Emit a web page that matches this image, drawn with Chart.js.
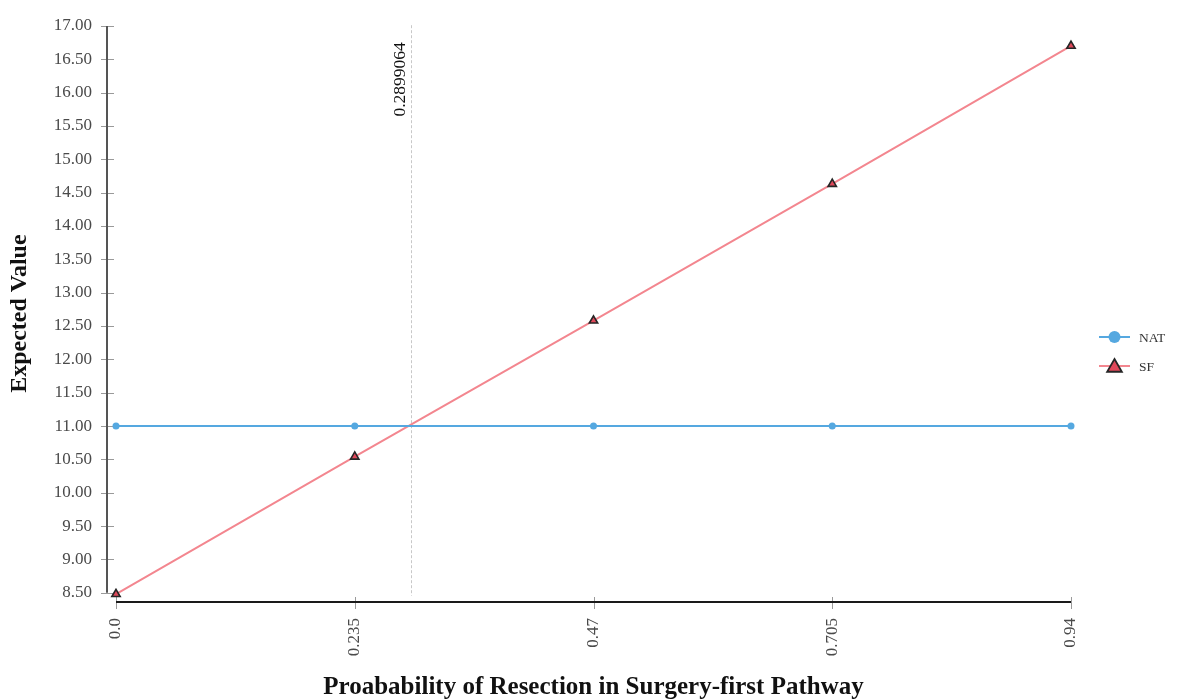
<!DOCTYPE html>
<html>
<head>
<meta charset="utf-8">
<title>Expected Value by Probability of Resection</title>
<script src="https://cdn.jsdelivr.net/npm/chart.js@4.4.1/dist/chart.umd.min.js"></script>
<style>
  html, body { margin: 0; padding: 0; background: #ffffff; }
  #wrap { width: 1185px; height: 700px; position: relative; }
</style>
</head>
<body>
<div id="wrap"><canvas id="chart" width="1185" height="700"></canvas></div>
<script>
// Probability of resection in the surgery-first pathway
const probabilities = [0, 0.235, 0.47, 0.705, 0.94];
const xTickLabels = ['0.0', '0.235', '0.47', '0.705', '0.94'];

// Expected value of each strategy
const natValues = [11.00, 11.00, 11.00, 11.00, 11.00];
const sfValues = [8.48, 10.54, 12.58, 14.63, 16.70];

const yTickValues = [8.5, 9, 9.5, 10, 10.5, 11, 11.5, 12, 12.5, 13, 13.5, 14, 14.5, 15, 15.5, 16, 16.5, 17];
const yTickLabels = ['8.50', '9.00', '9.50', '10.00', '10.50', '11.00', '11.50', '12.00', '12.50',
                     '13.00', '13.50', '14.00', '14.50', '15.00', '15.50', '16.00', '16.50', '17.00'];

// Threshold where the two strategies break even
const thresholdValue = 0.2899064;
const thresholdLabel = '0.2899064';

const seriesNames = ['NAT', 'SF'];

const SERIF = "'Liberation Serif', 'Times New Roman', serif";
const NAT_COLOR = '#55a8e0';
const SF_LINE = '#f3868f';
const SF_FILL = '#e0485a';
const SF_EDGE = '#262626';

function toPoints(values) {
  return probabilities.map((p, i) => ({ x: p, y: values[i] }));
}

// Axis lines, tick marks and the break-even line
const axesPlugin = {
  id: 'axesPlugin',
  beforeDatasetsDraw(chart) {
    const { ctx, scales: { x, y }, chartArea } = chart;
    ctx.save();

    // break-even marker
    const tx = Math.round(x.getPixelForValue(thresholdValue)) + 0.5;
    ctx.strokeStyle = '#c8c8c8';
    ctx.lineWidth = 1;
    ctx.setLineDash([3, 2]);
    ctx.beginPath();
    ctx.moveTo(tx, chartArea.top);
    ctx.lineTo(tx, y.getPixelForValue(yTickValues[0]) + 3);
    ctx.stroke();
    ctx.setLineDash([]);

    ctx.translate(tx - 11, chartArea.top + 17);
    ctx.rotate(-Math.PI / 2);
    ctx.fillStyle = '#111111';
    ctx.font = "17.5px " + SERIF;
    ctx.textAlign = 'right';
    ctx.textBaseline = 'middle';
    ctx.fillText(thresholdLabel, 0, 0);
    ctx.restore();

    ctx.save();
    // y axis
    const ax = chartArea.left;
    const yTop = y.getPixelForValue(yTickValues[yTickValues.length - 1]);
    const yBot = y.getPixelForValue(yTickValues[0]);
    ctx.strokeStyle = '#9a9a9a';
    ctx.lineWidth = 1;
    yTickValues.forEach(v => {
      const py = Math.round(y.getPixelForValue(v)) + 0.5;
      ctx.beginPath();
      ctx.moveTo(ax - 6, py);
      ctx.lineTo(ax + 7, py);
      ctx.stroke();
    });
    ctx.strokeStyle = '#555555';
    ctx.lineWidth = 2;
    ctx.beginPath();
    ctx.moveTo(ax, yTop);
    ctx.lineTo(ax, yBot);
    ctx.stroke();

    // x axis
    const by = chartArea.bottom;
    ctx.strokeStyle = '#9a9a9a';
    ctx.lineWidth = 1;
    probabilities.forEach(v => {
      const px = Math.round(x.getPixelForValue(v)) + 0.5;
      ctx.beginPath();
      ctx.moveTo(px, by - 5);
      ctx.lineTo(px, by + 7);
      ctx.stroke();
    });
    ctx.strokeStyle = '#1a1a1a';
    ctx.lineWidth = 2;
    ctx.beginPath();
    ctx.moveTo(x.getPixelForValue(probabilities[0]), by);
    ctx.lineTo(x.getPixelForValue(probabilities[probabilities.length - 1]), by);
    ctx.stroke();
    ctx.restore();
  }
};

// Legend with a line segment through each marker
const sideLegend = {
  id: 'sideLegend',
  afterDraw(chart) {
    const { ctx } = chart;
    const rows = [337, 366];
    ctx.save();
    chart.data.datasets.forEach((ds, i) => {
      const yy = rows[i];
      ctx.strokeStyle = ds.borderColor;
      ctx.lineWidth = 2;
      ctx.beginPath();
      ctx.moveTo(1099, yy);
      ctx.lineTo(1130, yy);
      ctx.stroke();
      if (ds.pointStyle === 'circle') {
        ctx.fillStyle = ds.pointBackgroundColor;
        ctx.beginPath();
        ctx.arc(1114.5, yy, 6, 0, Math.PI * 2);
        ctx.fill();
      } else {
        const r = 8.5;
        const cy = yy + 1.5;
        ctx.fillStyle = ds.pointBackgroundColor;
        ctx.strokeStyle = ds.pointBorderColor;
        ctx.lineWidth = 1.8;
        ctx.beginPath();
        ctx.moveTo(1114.5, cy - r);
        ctx.lineTo(1114.5 + r * Math.sin(Math.PI / 3), cy + r * 0.5);
        ctx.lineTo(1114.5 - r * Math.sin(Math.PI / 3), cy + r * 0.5);
        ctx.closePath();
        ctx.fill();
        ctx.stroke();
      }
      ctx.fillStyle = '#333333';
      ctx.font = "13.5px " + SERIF;
      ctx.textAlign = 'left';
      ctx.textBaseline = 'middle';
      ctx.fillText(ds.label, 1139, yy + 1);
    });
    ctx.restore();
  }
};

new Chart(document.getElementById('chart'), {
  type: 'line',
  data: {
    datasets: [
      {
        label: seriesNames[0],
        data: toPoints(natValues),
        borderColor: NAT_COLOR,
        backgroundColor: NAT_COLOR,
        borderWidth: 2,
        pointStyle: 'circle',
        pointRadius: 3.5,
        pointBackgroundColor: NAT_COLOR,
        pointBorderColor: NAT_COLOR,
        pointBorderWidth: 0,
        tension: 0
      },
      {
        label: seriesNames[1],
        data: toPoints(sfValues),
        borderColor: SF_LINE,
        backgroundColor: SF_FILL,
        borderWidth: 2,
        pointStyle: 'triangle',
        pointRadius: 4.8,
        pointBackgroundColor: SF_FILL,
        pointBorderColor: SF_EDGE,
        pointBorderWidth: 1.6,
        tension: 0
      }
    ]
  },
  options: {
    responsive: false,
    animation: false,
    events: [],
    layout: { padding: { top: 21, right: 105, bottom: 0, left: 0 } },
    plugins: {
      legend: { display: false },
      tooltip: { enabled: false }
    },
    scales: {
      x: {
        type: 'linear',
        min: -0.00886,
        max: 0.94886,
        grid: { display: false, drawTicks: false },
        border: { display: false },
        afterBuildTicks(axis) { axis.ticks = probabilities.map(v => ({ value: v })); },
        afterFit(axis) { axis.height = 98; },
        ticks: {
          autoSkip: false,
          minRotation: 90,
          maxRotation: 90,
          padding: 16,
          color: '#4a4a4a',
          font: { family: SERIF, size: 17 },
          callback: (v, i) => xTickLabels[i]
        },
        title: {
          display: true,
          text: 'Proabability of Resection in Surgery-first Pathway',
          color: '#111111',
          font: { family: SERIF, size: 25, weight: 'bold', lineHeight: 1 },
          padding: { top: 0, bottom: 0 }
        }
      },
      y: {
        type: 'linear',
        min: 8.3616,
        max: 17.0104,
        grid: { display: false, drawTicks: false },
        border: { display: false },
        afterBuildTicks(axis) { axis.ticks = yTickValues.map(v => ({ value: v })); },
        afterFit(axis) { axis.width = 107; },
        ticks: {
          autoSkip: false,
          padding: 15,
          color: '#4a4a4a',
          font: { family: SERIF, size: 17 },
          callback: (v, i) => yTickLabels[i]
        },
        title: {
          display: true,
          text: 'Expected Value',
          color: '#111111',
          font: { family: SERIF, size: 24, weight: 'bold', lineHeight: 1 },
          padding: { top: 8, bottom: 0 }
        }
      }
    }
  },
  plugins: [axesPlugin, sideLegend]
});
</script>
</body>
</html>
